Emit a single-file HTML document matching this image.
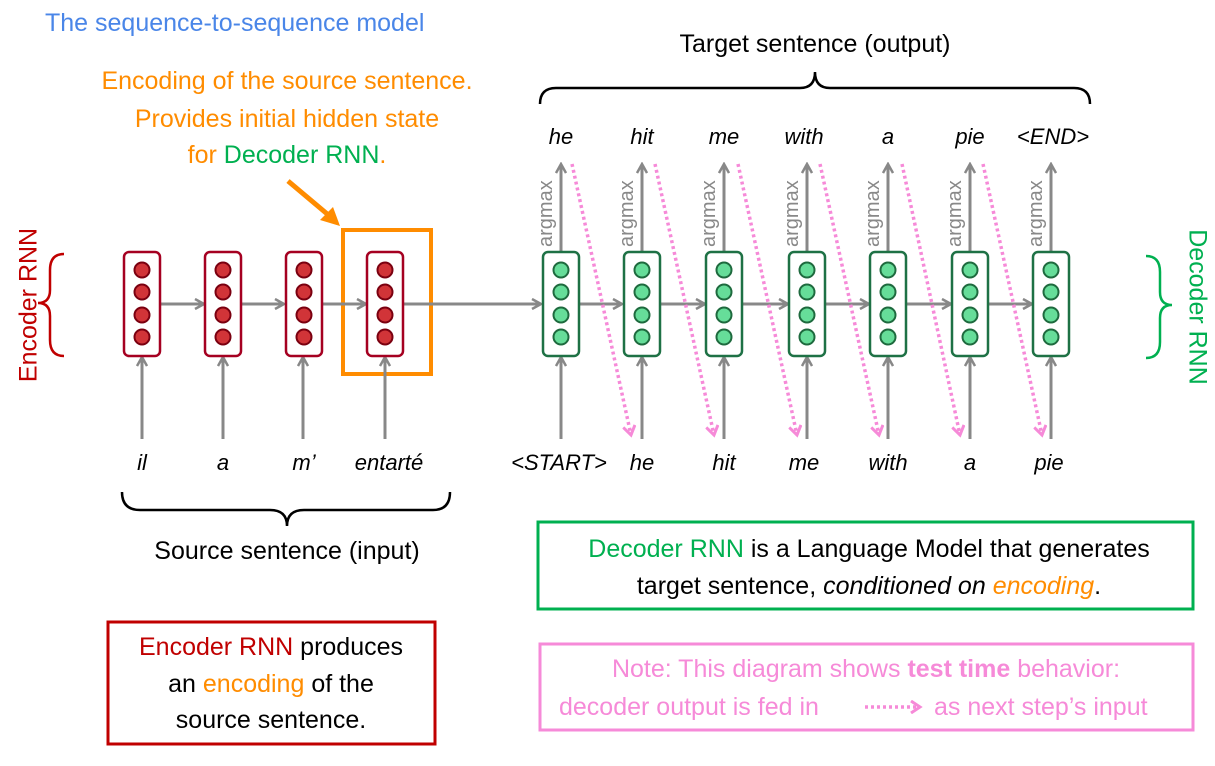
<!DOCTYPE html>
<html><head><style>
body{margin:0;background:#fff;}
svg text{font-family:"Liberation Sans","DejaVu Sans",sans-serif;}
</style></head><body>
<svg width="1215" height="761" viewBox="0 0 1215 761" xmlns="http://www.w3.org/2000/svg">
<defs>
<marker id="ga" markerWidth="12" markerHeight="12" refX="10" refY="6" orient="auto" markerUnits="userSpaceOnUse"><path d="M1,1 L10,6 L1,11" fill="none" stroke="#888" stroke-width="2.5"/></marker>
<marker id="pa" markerWidth="14" markerHeight="14" refX="10" refY="7" orient="auto" markerUnits="userSpaceOnUse"><path d="M1,1 L10,7 L1,13" fill="none" stroke="#f68ad8" stroke-width="3"/></marker>
</defs>
<text x="45" y="31" font-size="25" fill="#4a86e8">The sequence-to-sequence model</text>
<text x="287" y="89" font-size="25" fill="#ff8c00" text-anchor="middle">Encoding of the source sentence.</text>
<text x="287" y="127" font-size="25" fill="#ff8c00" text-anchor="middle">Provides initial hidden state</text>
<text x="287" y="163" font-size="25" text-anchor="middle"><tspan fill="#ff8c00">for </tspan><tspan fill="#00b050">Decoder RNN</tspan><tspan fill="#ff8c00">.</tspan></text>
<line x1="288" y1="181" x2="332" y2="218" stroke="#ff8c00" stroke-width="5"/>
<path d="M340,226 L320,220 L333,207 Z" fill="#ff8c00"/>
<text x="815" y="52" font-size="25" text-anchor="middle" fill="#000">Target sentence (output)</text>
<path d="M540,104 Q540,88 556,88 L800,88 Q815,88 815,72 Q815,88 830,88 L1074,88 Q1090,88 1090,104" fill="none" stroke="#000" stroke-width="2.5"/>
<text x="30" y="305" font-size="25" fill="#c00000" text-anchor="middle" transform="rotate(-90 30 305)" dominant-baseline="middle">Encoder RNN</text>
<path d="M64,254 Q50,254 50,270 L50,290 Q50,303 38,303 Q50,303 50,316 L50,340 Q50,356 64,356" fill="none" stroke="#c00000" stroke-width="2.5"/>
<text x="1196" y="307" font-size="25" fill="#00b050" text-anchor="middle" transform="rotate(90 1196 307)" dominant-baseline="middle">Decoder RNN</text>
<path d="M1146,256 Q1160,256 1160,272 L1160,292 Q1160,305 1172,305 Q1160,305 1160,318 L1160,342 Q1160,358 1146,358" fill="none" stroke="#00b050" stroke-width="2.5"/>
<rect x="343" y="230" width="88" height="144" fill="none" stroke="#ff8c00" stroke-width="4"/>
<g stroke="#888" stroke-width="3" fill="none" marker-end="url(#ga)">
<line x1="160" y1="304" x2="204" y2="304"/><line x1="242" y1="304" x2="284" y2="304"/><line x1="322" y1="304" x2="366" y2="304"/><line x1="404" y1="304" x2="541" y2="304"/>
<line x1="579" y1="304" x2="622" y2="304"/><line x1="660" y1="304" x2="705" y2="304"/><line x1="743" y1="304" x2="788" y2="304"/><line x1="826" y1="304" x2="869" y2="304"/><line x1="907" y1="304" x2="951" y2="304"/><line x1="989" y1="304" x2="1032" y2="304"/>
<line x1="142" y1="439" x2="142" y2="357"/><line x1="223" y1="439" x2="223" y2="357"/><line x1="303" y1="439" x2="303" y2="357"/><line x1="385" y1="439" x2="385" y2="357"/>
<line x1="561" y1="439" x2="561" y2="357"/><line x1="642" y1="439" x2="642" y2="357"/><line x1="724" y1="439" x2="724" y2="357"/><line x1="807" y1="439" x2="807" y2="357"/><line x1="888" y1="439" x2="888" y2="357"/><line x1="970" y1="439" x2="970" y2="357"/><line x1="1051" y1="439" x2="1051" y2="357"/>
<line x1="561" y1="251" x2="561" y2="164"/><line x1="642" y1="251" x2="642" y2="164"/><line x1="724" y1="251" x2="724" y2="164"/><line x1="807" y1="251" x2="807" y2="164"/><line x1="888" y1="251" x2="888" y2="164"/><line x1="970" y1="251" x2="970" y2="164"/><line x1="1051" y1="251" x2="1051" y2="164"/>
</g>
<g fill="#fff" stroke="#a50021" stroke-width="2.5">
<rect x="124" y="252" width="36" height="104" rx="5"/><rect x="205" y="252" width="36" height="104" rx="5"/><rect x="286" y="252" width="36" height="104" rx="5"/><rect x="367" y="252" width="36" height="104" rx="5"/>
</g>
<g fill="#fff" stroke="#1e7145" stroke-width="2.5">
<rect x="543" y="252" width="36" height="104" rx="5"/><rect x="624" y="252" width="36" height="104" rx="5"/><rect x="706" y="252" width="36" height="104" rx="5"/><rect x="789" y="252" width="36" height="104" rx="5"/><rect x="870" y="252" width="36" height="104" rx="5"/><rect x="952" y="252" width="36" height="104" rx="5"/><rect x="1033" y="252" width="36" height="104" rx="5"/>
</g>
<g id="rc" fill="#d13438" stroke="#7a0010" stroke-width="2">
<circle cx="142" cy="270" r="7.5"/><circle cx="142" cy="292" r="7.5"/><circle cx="142" cy="315" r="7.5"/><circle cx="142" cy="337" r="7.5"/>
<circle cx="223" cy="270" r="7.5"/><circle cx="223" cy="292" r="7.5"/><circle cx="223" cy="315" r="7.5"/><circle cx="223" cy="337" r="7.5"/>
<circle cx="304" cy="270" r="7.5"/><circle cx="304" cy="292" r="7.5"/><circle cx="304" cy="315" r="7.5"/><circle cx="304" cy="337" r="7.5"/>
<circle cx="385" cy="270" r="7.5"/><circle cx="385" cy="292" r="7.5"/><circle cx="385" cy="315" r="7.5"/><circle cx="385" cy="337" r="7.5"/>
</g>
<g fill="#66dd99" stroke="#1e6a3e" stroke-width="2">
<circle cx="561" cy="270" r="7.5"/><circle cx="561" cy="292" r="7.5"/><circle cx="561" cy="315" r="7.5"/><circle cx="561" cy="337" r="7.5"/>
<circle cx="642" cy="270" r="7.5"/><circle cx="642" cy="292" r="7.5"/><circle cx="642" cy="315" r="7.5"/><circle cx="642" cy="337" r="7.5"/>
<circle cx="724" cy="270" r="7.5"/><circle cx="724" cy="292" r="7.5"/><circle cx="724" cy="315" r="7.5"/><circle cx="724" cy="337" r="7.5"/>
<circle cx="807" cy="270" r="7.5"/><circle cx="807" cy="292" r="7.5"/><circle cx="807" cy="315" r="7.5"/><circle cx="807" cy="337" r="7.5"/>
<circle cx="888" cy="270" r="7.5"/><circle cx="888" cy="292" r="7.5"/><circle cx="888" cy="315" r="7.5"/><circle cx="888" cy="337" r="7.5"/>
<circle cx="970" cy="270" r="7.5"/><circle cx="970" cy="292" r="7.5"/><circle cx="970" cy="315" r="7.5"/><circle cx="970" cy="337" r="7.5"/>
<circle cx="1051" cy="270" r="7.5"/><circle cx="1051" cy="292" r="7.5"/><circle cx="1051" cy="315" r="7.5"/><circle cx="1051" cy="337" r="7.5"/>
</g>
<g fill="#888" font-size="20">
<text transform="translate(552,247) rotate(-90)">argmax</text>
<text transform="translate(633,247) rotate(-90)">argmax</text>
<text transform="translate(715,247) rotate(-90)">argmax</text>
<text transform="translate(798,247) rotate(-90)">argmax</text>
<text transform="translate(879,247) rotate(-90)">argmax</text>
<text transform="translate(961,247) rotate(-90)">argmax</text>
<text transform="translate(1042,247) rotate(-90)">argmax</text>
</g>
<g stroke="#f68ad8" stroke-width="3.5" stroke-dasharray="3,3" fill="none" marker-end="url(#pa)">
<line x1="572" y1="164" x2="631" y2="435"/><line x1="655" y1="164" x2="714" y2="435"/><line x1="738" y1="164" x2="797" y2="435"/><line x1="820" y1="164" x2="879" y2="435"/><line x1="902" y1="164" x2="960" y2="435"/><line x1="983" y1="164" x2="1042" y2="435"/>
</g>
<g font-size="22" font-style="italic" text-anchor="middle" fill="#000">
<text x="561" y="144">he</text><text x="642" y="144">hit</text><text x="724" y="144">me</text><text x="804" y="144">with</text><text x="888" y="144">a</text><text x="970" y="144">pie</text><text x="1053" y="144">&lt;END&gt;</text>
<text x="142" y="470">il</text><text x="223" y="470">a</text><text x="304" y="470">m’</text><text x="389" y="470">entarté</text>
<text x="559" y="470">&lt;START&gt;</text><text x="642" y="470">he</text><text x="724" y="470">hit</text><text x="804" y="470">me</text><text x="888" y="470">with</text><text x="970" y="470">a</text><text x="1049" y="470">pie</text>
</g>
<path d="M122,492 Q122,510 140,510 L270,510 Q287,510 287,526 Q287,510 304,510 L433,510 Q450,510 450,492" fill="none" stroke="#000" stroke-width="2.5"/>
<text x="287" y="559" font-size="25" text-anchor="middle" fill="#000">Source sentence (input)</text>
<rect x="538" y="522" width="655" height="87" fill="none" stroke="#00b050" stroke-width="3"/>
<text x="869" y="557" font-size="25" text-anchor="middle"><tspan fill="#00b050">Decoder RNN</tspan><tspan fill="#000"> is a Language Model that generates</tspan></text>
<text x="869" y="594" font-size="25" text-anchor="middle" fill="#000">target sentence, <tspan font-style="italic">conditioned on </tspan><tspan font-style="italic" fill="#ff8c00">encoding</tspan>.</text>
<rect x="108" y="622" width="327" height="122" fill="none" stroke="#c00000" stroke-width="3"/>
<text x="271" y="655" font-size="25" text-anchor="middle"><tspan fill="#c00000">Encoder RNN</tspan><tspan fill="#000"> produces</tspan></text>
<text x="271" y="692" font-size="25" text-anchor="middle" fill="#000">an <tspan fill="#ff8c00">encoding</tspan> of the</text>
<text x="271" y="728" font-size="25" text-anchor="middle" fill="#000">source sentence.</text>
<rect x="540" y="644" width="653" height="86" fill="none" stroke="#f68ad8" stroke-width="3"/>
<text x="866" y="677" font-size="25" text-anchor="middle" fill="#f68ad8">Note: This diagram shows <tspan font-weight="bold">test time</tspan> behavior:</text>
<text x="559" y="715" font-size="25" fill="#f68ad8">decoder output is fed in</text>
<line x1="865" y1="707" x2="920" y2="707" stroke="#f68ad8" stroke-width="3.5" stroke-dasharray="3,3" marker-end="url(#pa)"/>
<text x="934" y="715" font-size="25" fill="#f68ad8">as next step’s input</text>
</svg>
</body></html>
